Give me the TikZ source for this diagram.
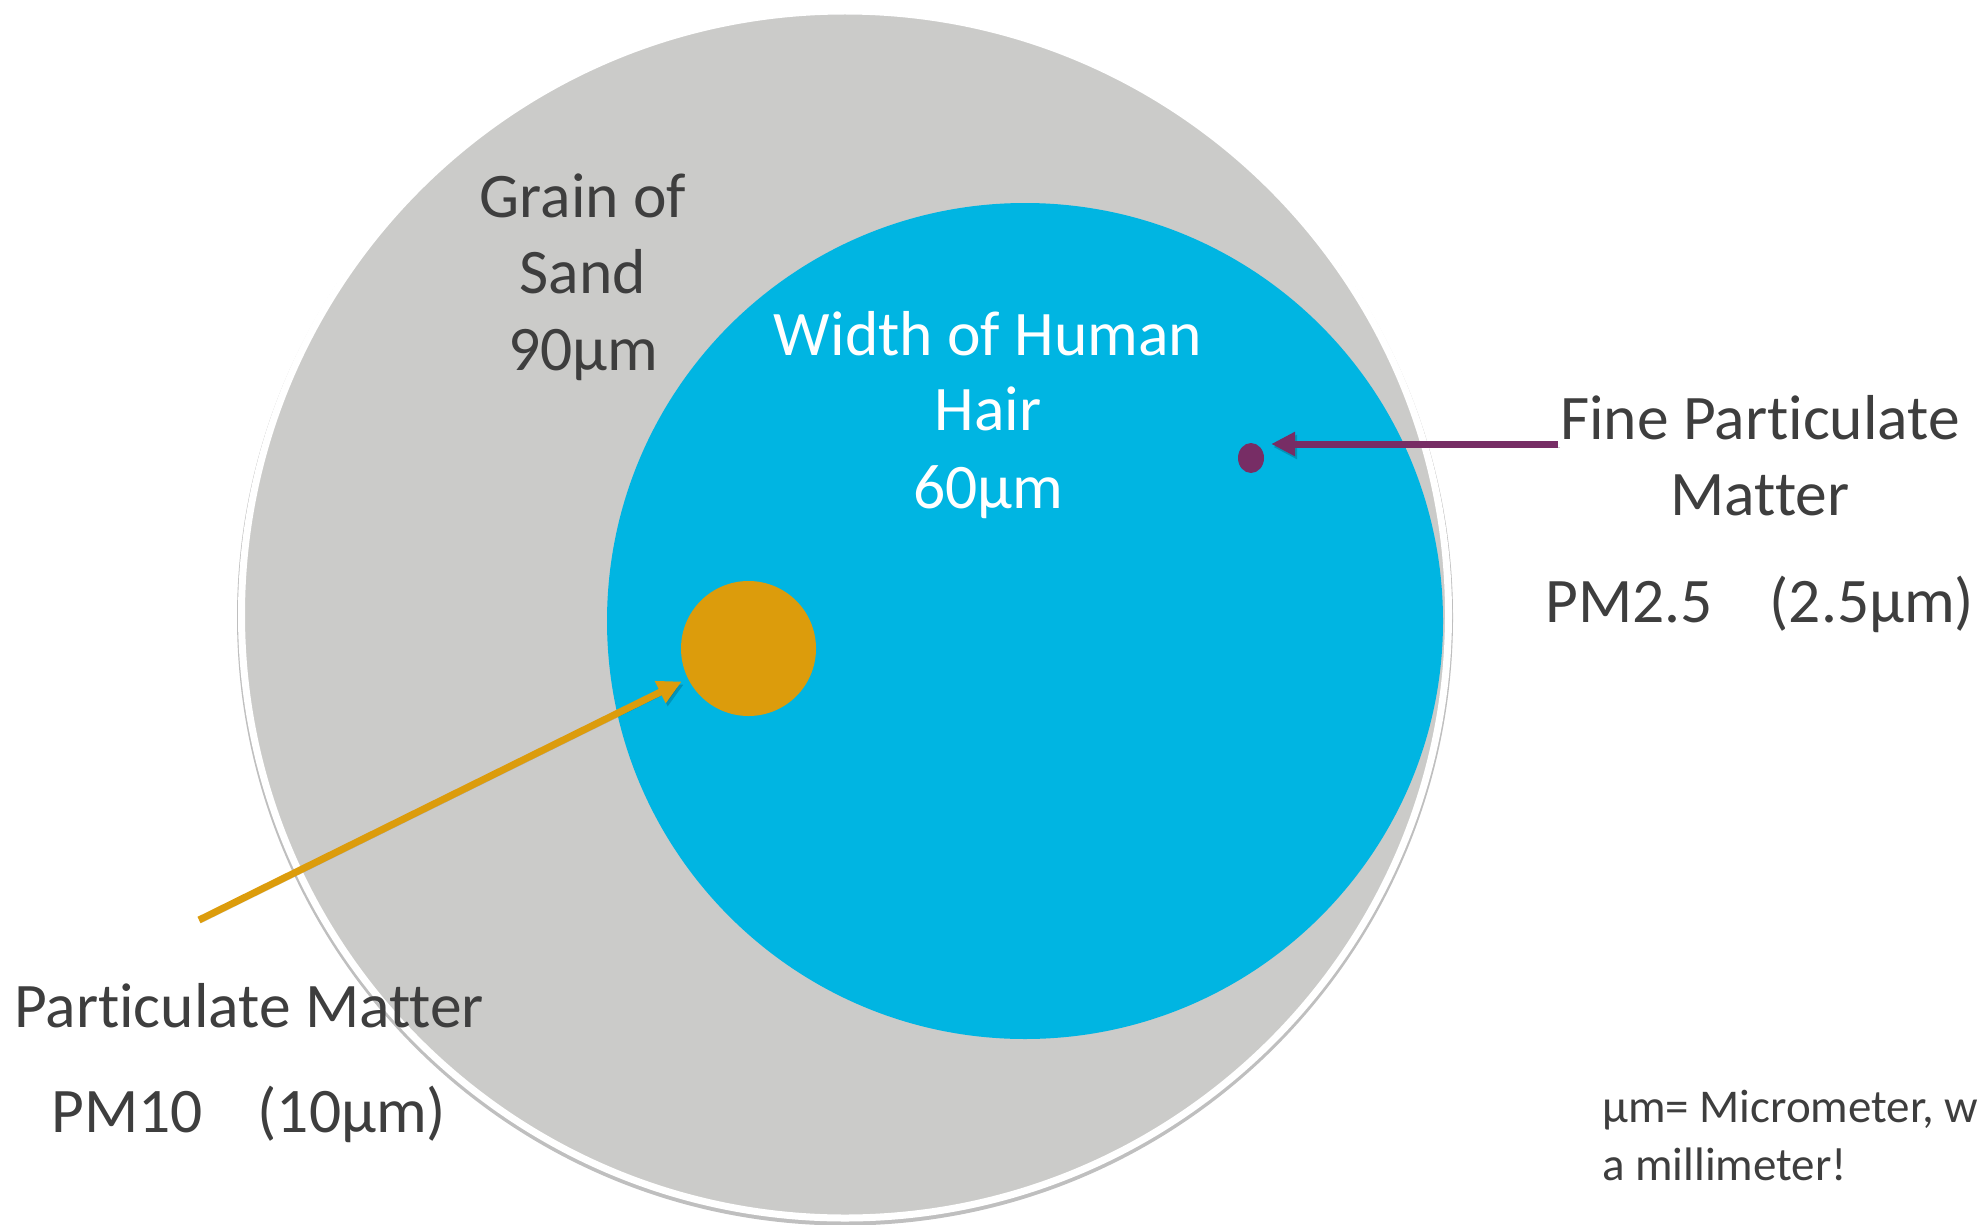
\documentclass[tikz,border=0pt]{standalone}
\usepackage{fontspec}
\setmainfont[Ligatures=NoCommon]{Carlito}
\usetikzlibrary{arrows.meta,shapes.geometric}
\definecolor{sand}{RGB}{203,203,201}
\definecolor{hair}{RGB}{0,181,226}
\definecolor{pmten}{RGB}{220,156,12}
\definecolor{pmfine}{RGB}{119,45,101}
\definecolor{txt}{RGB}{62,62,62}
\begin{document}
\begin{tikzpicture}[x=1pt,y=-1pt,
  disc/.style={circle,inner sep=0pt,outer sep=0pt},
  bigtxt/.style={text=txt,font=\fontsize{63.5}{77}\selectfont,inner sep=0pt,anchor=base},
  hairtxt/.style={bigtxt,text=white},
  smalltxt/.style={text=txt,font=\fontsize{47}{58}\selectfont,inner sep=0pt,anchor=base west},
  pointer/.style={line width=7pt,-{Triangle[length=24pt,width=23pt]},
    preaction={draw=black,opacity=0.18,transform canvas={shift={(2pt,-3pt)}}}}
]
\useasboundingbox (0,0) rectangle (1985,1225);
% grain of sand
\node[disc,minimum size=1216pt,fill=black,opacity=0.25] (sandshadow) at (845,617.5) {};
\node[disc,minimum size=1207pt,fill=sand,draw=white,line width=7pt] (sandgrain) at (845,614.5) {};
% human hair
\node[disc,minimum size=836pt,fill=hair] (hair) at (1025,621) {};
% PM10
\node[disc,minimum size=135pt,fill=pmten] (pmten) at (748.5,648.5) {};
% PM2.5
\node[ellipse,inner sep=0pt,minimum width=26pt,minimum height=30pt,fill=pmfine] (pmfine) at (1251,458) {};

% labels
\node[bigtxt] (sand1) at (583,217) {Grain of};
\node[bigtxt] (sand2) at (583,293) {Sand};
\node[bigtxt] (sand3) at (583,370) {90µm};
\node[hairtxt] (hair1) at (988,355) {Width of Human};
\node[hairtxt] (hair2) at (988,430) {Hair};
\node[hairtxt] (hair3) at (988,508) {60µm};
\node[bigtxt] (fine1) at (1760,439) {Fine Particulate};
\node[bigtxt] (fine2) at (1760,515) {Matter};
\node[bigtxt,anchor=base west] (fine3) at (1545,622) {PM2.5\hspace{57pt}(2.5µm)};
\node[bigtxt] (pm1) at (249,1027) {Particulate Matter};
\node[bigtxt,anchor=base west] (pm2) at (51,1132) {PM10\hspace{55pt}(10µm)};
\node[smalltxt] (note1) at (1602,1122) {µm= Micrometer, w};
\node[smalltxt] (note2) at (1602,1180) {a millimeter!};

% arrows
\coordinate (finetail) at (1558,444);
\coordinate (pmtail) at (199,920);
\draw[pointer,pmfine,shorten >=7pt] (finetail) -- (finetail -| pmfine.east);
\draw[pointer,pmten,shorten >=7pt] (pmtail) -- (pmten);
\end{tikzpicture}
\end{document}
